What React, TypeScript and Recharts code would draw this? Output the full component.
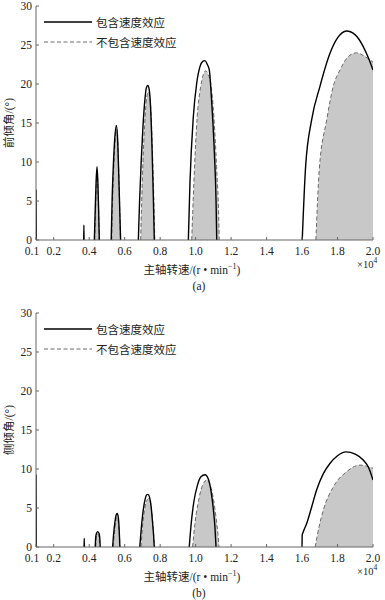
import { ComposedChart, Area, Line, XAxis, YAxis } from 'recharts'

type Pt = [number, number]

// (a) 前倾角 — each inner array is one lobe, [speed ×10^4, angle]
const frontWith: Pt[][] = [
  [[0.1, 0], [0.1003, 6.4], [0.102, 0]],
  [[0.369, 0], [0.37, 1.9], [0.371, 0]],
  [[0.429, 0], [0.434, 4], [0.439, 7.5], [0.444, 9.4], [0.449, 7.2], [0.453, 4], [0.457, 0]],
  [[0.524, 0], [0.529, 5], [0.536, 9.5], [0.544, 13], [0.553, 14.7], [0.561, 12.5], [0.567, 8], [0.572, 4], [0.577, 0]],
  [[0.677, 0], [0.684, 5], [0.693, 10], [0.703, 14.5], [0.714, 18], [0.722, 19.5], [0.73, 19.8], [0.738, 19.3], [0.746, 17], [0.754, 12], [0.761, 6], [0.767, 0]],
  [[0.959, 0], [0.968, 7.3], [0.987, 15.8], [1.006, 20.1], [1.024, 22.2], [1.04, 22.9], [1.053, 23.0], [1.066, 22.5], [1.077, 21.8], [1.09, 17.9], [1.105, 11.5], [1.115, 5.1], [1.119, 0]],
  [[1.601, 0], [1.62, 9.4], [1.654, 15.4], [1.701, 19.7], [1.757, 23.9], [1.8, 25.9], [1.851, 26.8], [1.9, 26.3], [1.945, 24.8], [1.975, 23.3], [2.0, 21.8]],
]
const frontWithout: Pt[][] = [
  [[0.431, 0], [0.436, 4], [0.44, 7.2], [0.445, 9.0], [0.449, 7], [0.453, 3.5], [0.456, 0]],
  [[0.527, 0], [0.532, 5], [0.539, 9.5], [0.547, 13], [0.555, 14.2], [0.562, 12], [0.568, 7.5], [0.572, 4], [0.576, 0]],
  [[0.69, 0], [0.696, 5], [0.703, 10], [0.712, 14.5], [0.722, 17.8], [0.729, 18.8], [0.735, 19.0], [0.742, 18.4], [0.75, 15.5], [0.757, 11], [0.764, 5.5], [0.77, 0]],
  [[0.978, 0], [0.99, 7.3], [1.009, 15.8], [1.028, 19.6], [1.043, 21.2], [1.057, 21.7], [1.071, 21.2], [1.085, 20.1], [1.103, 15.8], [1.118, 9.4], [1.13, 3], [1.133, 0]],
  [[1.678, 0], [1.697, 9], [1.739, 15.4], [1.776, 19.7], [1.814, 21.8], [1.86, 23.5], [1.908, 24.0], [1.95, 23.6], [2.0, 22.8]],
]

// (b) 侧倾角
const sideWith: Pt[][] = [
  [[0.1, 0], [0.1003, 9.2], [0.102, 0]],
  [[0.371, 0], [0.372, 1.1], [0.373, 0]],
  [[0.434, 0], [0.436, 1.0], [0.44, 1.7], [0.448, 1.97], [0.456, 1.7], [0.46, 1.0], [0.462, 0]],
  [[0.532, 0], [0.537, 1.5], [0.545, 3.2], [0.552, 4.1], [0.558, 4.3], [0.564, 3.8], [0.569, 2.2], [0.573, 0]],
  [[0.685, 0], [0.694, 2.5], [0.705, 4.8], [0.716, 6.2], [0.724, 6.7], [0.731, 6.75], [0.74, 6.4], [0.749, 5.2], [0.757, 3.2], [0.763, 1.5], [0.767, 0]],
  [[0.964, 0], [0.975, 3.0], [0.99, 5.8], [1.01, 7.9], [1.03, 9.0], [1.053, 9.27], [1.072, 8.7], [1.088, 7.0], [1.1, 4.8], [1.109, 2.5], [1.115, 0]],
  [[1.6, 0], [1.6005, 1.5], [1.606, 1.9], [1.626, 3.0], [1.65, 4.8], [1.682, 7.3], [1.72, 9.4], [1.757, 10.7], [1.8, 11.7], [1.847, 12.2], [1.9, 11.9], [1.945, 11.15], [1.975, 10.2], [2.0, 8.6]],
]
const sideWithout: Pt[][] = [
  [[0.437, 0], [0.44, 1.2], [0.448, 1.7], [0.455, 1.3], [0.459, 0]],
  [[0.535, 0], [0.541, 1.5], [0.549, 3.1], [0.556, 3.8], [0.561, 3.7], [0.566, 2.8], [0.571, 1.2], [0.573, 0]],
  [[0.692, 0], [0.7, 2.5], [0.711, 4.6], [0.722, 5.8], [0.735, 6.2], [0.745, 5.8], [0.753, 4.4], [0.761, 2.3], [0.767, 0]],
  [[0.983, 0], [0.995, 2.8], [1.012, 5.4], [1.03, 7.3], [1.048, 8.3], [1.066, 8.6], [1.083, 7.9], [1.1, 6.2], [1.115, 3.8], [1.126, 1.6], [1.132, 0]],
  [[1.674, 0], [1.695, 2.5], [1.72, 4.74], [1.776, 7.7], [1.851, 9.65], [1.926, 10.5], [1.96, 10.4], [2.0, 10.1]],
]

const xTicks = [0.1, 0.2, 0.4, 0.6, 0.8, 1.0, 1.2, 1.4, 1.6, 1.8, 2.0]
const frameXTicks = [0.2, 0.4, 0.6, 0.8, 1.0, 1.2, 1.4, 1.6, 1.8]
const yTicks = [0, 5, 10, 15, 20, 25, 30]
const frameYTicks = [5, 10, 15, 20, 25]
const legendLabels = ['包含速度效应', '不包含速度效应']

const AXIS = '#666'
const SERIF = '"Liberation Serif", "Noto Sans CJK SC", serif'
const FS = 11.5

// flatten lobes into one series, with a null gap between lobes
function toSeries(lobes: Pt[][]) {
  const out: { x: number; y: number | null }[] = []
  lobes.forEach((lobe, i) => {
    if (i > 0) {
      const prev = lobes[i - 1]
      out.push({ x: (prev[prev.length - 1][0] + lobe[0][0]) / 2, y: null })
    }
    lobe.forEach(([x, y]) => out.push({ x, y }))
  })
  return out
}

const BottomTick = (p: any) => {
  const v = Number(p.payload.value)
  // first label sits a little left so it clears 0.2
  const dx = v === 0.1 ? -4 : 0
  return (
    <g>
      <line x1={p.x} y1={p.y} x2={p.x} y2={p.y - 3} stroke={AXIS} />
      <text x={p.x + dx} y={p.y + 14.5} textAnchor="middle" fontSize={FS} fill="#222" fontFamily={SERIF}>
        {v.toFixed(1)}
      </text>
    </g>
  )
}
const LeftTick = (p: any) => (
  <g>
    <line x1={p.x} y1={p.y} x2={p.x + 3} y2={p.y} stroke={AXIS} />
    <text x={p.x - 4} y={p.y + 3.5} textAnchor="end" fontSize={FS} fill="#222" fontFamily={SERIF}>
      {p.payload.value}
    </text>
  </g>
)
const TopTick = (p: any) => <line x1={p.x} y1={p.y} x2={p.x} y2={p.y + 3} stroke={AXIS} />
const RightTick = (p: any) => <line x1={p.x} y1={p.y} x2={p.x - 3} y2={p.y} stroke={AXIS} />

interface PanelProps {
  top: number
  withLobes: Pt[][]
  withoutLobes: Pt[][]
  yLabel: string
  caption: string
}

function Panel({ top, withLobes, withoutLobes, yLabel, caption }: PanelProps) {
  const plotTop = top + 6
  return (
    <>
      <div style={{ position: 'absolute', left: 0, top }}>
        <ComposedChart width={385} height={260} margin={{ top: 6, right: 12, left: 0, bottom: 0 }}>
          <XAxis
            dataKey="x"
            type="number"
            domain={[0.1, 2.0]}
            ticks={xTicks}
            interval={0}
            height={20}
            stroke={AXIS}
            tickLine={false}
            tickSize={0}
            tickMargin={0}
            tick={BottomTick}
            allowDataOverflow
          />
          <XAxis
            xAxisId="top"
            orientation="top"
            dataKey="x"
            type="number"
            domain={[0.1, 2.0]}
            ticks={frameXTicks}
            interval={0}
            height={0}
            stroke={AXIS}
            tickLine={false}
            tickSize={0}
            tickMargin={0}
            tick={TopTick}
            allowDataOverflow
          />
          <YAxis
            type="number"
            domain={[0, 30]}
            ticks={yTicks}
            interval={0}
            width={36}
            stroke={AXIS}
            tickLine={false}
            tickSize={0}
            tickMargin={0}
            tick={LeftTick}
            allowDataOverflow
          />
          <YAxis
            yAxisId="right"
            orientation="right"
            type="number"
            domain={[0, 30]}
            ticks={frameYTicks}
            interval={0}
            width={0}
            stroke={AXIS}
            tickLine={false}
            tickSize={0}
            tickMargin={0}
            tick={RightTick}
            allowDataOverflow
          />
          <Area
            data={toSeries(withoutLobes)}
            dataKey="y"
            type="monotone"
            stroke="#6a6a6a"
            strokeWidth={1}
            strokeDasharray="4 2.5"
            fill="#c8c8c8"
            fillOpacity={1}
            connectNulls={false}
            dot={false}
            activeDot={false}
            isAnimationActive={false}
          />
          <Line
            data={toSeries(withLobes)}
            dataKey="y"
            type="monotone"
            stroke="#000"
            strokeWidth={1.4}
            connectNulls={false}
            dot={false}
            activeDot={false}
            isAnimationActive={false}
          />
        </ComposedChart>
      </div>

      {/* legend */}
      {legendLabels.map((label, i) => (
        <div
          key={label}
          style={{
            position: 'absolute',
            left: 44,
            top: plotTop + 16 + 20 * i - 8,
            height: 16,
            display: 'flex',
            alignItems: 'center',
          }}
        >
          <svg width={48} height={16}>
            <line
              x1={0}
              x2={48}
              y1={8}
              y2={8}
              stroke={i === 0 ? '#000' : '#6a6a6a'}
              strokeWidth={i === 0 ? 1.6 : 1}
              strokeDasharray={i === 0 ? undefined : '4 2.5'}
            />
          </svg>
          <span style={{ marginLeft: 4, fontSize: FS, fontFamily: SERIF, color: '#222', whiteSpace: 'nowrap' }}>
            {label}
          </span>
        </div>
      ))}

      {/* y label */}
      <div
        style={{
          position: 'absolute',
          left: 9 - 60,
          top: plotTop + 117 - 8,
          width: 120,
          height: 16,
          lineHeight: '16px',
          textAlign: 'center',
          transform: 'rotate(-90deg)',
          fontSize: FS,
          fontFamily: SERIF,
          color: '#222',
          whiteSpace: 'nowrap',
        }}
      >
        {yLabel}
      </div>

      {/* x title */}
      <div
        style={{
          position: 'absolute',
          left: 192 - 80,
          width: 160,
          top: top + 267 - 8,
          height: 16,
          lineHeight: '16px',
          textAlign: 'center',
          fontSize: FS,
          fontFamily: SERIF,
          color: '#222',
          whiteSpace: 'nowrap',
        }}
      >
        主轴转速/(r • min<sup style={{ fontSize: 8 }}>−1</sup>)
      </div>
      <div
        style={{
          position: 'absolute',
          left: 357,
          top: top + 261 - 8,
          height: 16,
          lineHeight: '16px',
          fontSize: 10.5,
          fontFamily: SERIF,
          color: '#222',
          whiteSpace: 'nowrap',
        }}
      >
        ×10<sup style={{ fontSize: 7.5 }}>4</sup>
      </div>
      <div
        style={{
          position: 'absolute',
          left: 199 - 20,
          width: 40,
          top: top + 286 - 8,
          height: 16,
          lineHeight: '16px',
          textAlign: 'center',
          fontSize: FS,
          fontFamily: SERIF,
          color: '#222',
        }}
      >
        {caption}
      </div>
    </>
  )
}

export default function App() {
  return (
    <div style={{ position: 'absolute', left: 0, top: 0, width: 385, height: 600, background: '#fff', overflow: 'hidden' }}>
      <Panel top={0} withLobes={frontWith} withoutLobes={frontWithout} yLabel="前倾角/(°)" caption="(a)" />
      <Panel top={307} withLobes={sideWith} withoutLobes={sideWithout} yLabel="侧倾角/(°)" caption="(b)" />
    </div>
  )
}
